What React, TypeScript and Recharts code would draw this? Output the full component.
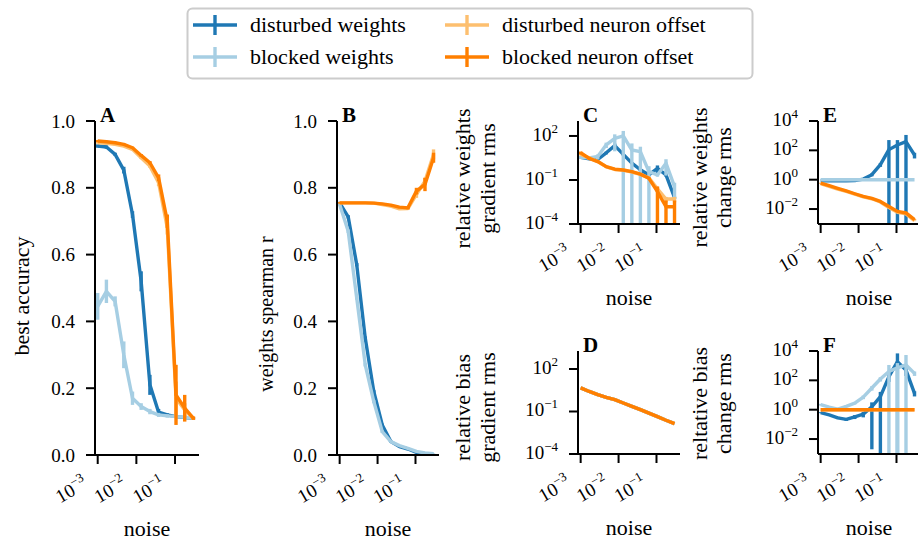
import React from 'react';
import { LineChart, Line, XAxis, YAxis, ErrorBar } from 'recharts';

// ---------- data ----------
const NOISE = [0.001, 0.00168, 0.00282, 0.00473, 0.00794, 0.0133, 0.0224, 0.0376, 0.0631, 0.106, 0.178, 0.299];

const SERIES_KEYS = ['dw', 'bw', 'do', 'bo'];
const SERIES_NAMES = ['disturbed weights', 'blocked weights', 'disturbed neuron offset', 'blocked neuron offset'];
const SERIES_COLORS = ['#1f78b4', '#a6cee3', '#fdbf6f', '#ff7f00'];

// A: best accuracy
const A_DW = [0.925, 0.922, 0.9, 0.853, 0.72, 0.52, 0.21, 0.128, 0.12, 0.115, 0.112, 0.11];
const A_DW_SD = [0.005, 0.005, 0.005, 0.01, 0.01, 0.03, 0.03, 0.01, 0.005, 0.004, 0.004, 0.003];
const A_BW = [0.445, 0.49, 0.46, 0.3, 0.17, 0.145, 0.13, 0.12, 0.117, 0.115, 0.113, 0.11];
const A_BW_SD = [0.04, 0.035, 0.015, 0.04, 0.02, 0.01, 0.008, 0.006, 0.005, 0.004, 0.004, 0.003];
const A_DO = [0.935, 0.933, 0.93, 0.925, 0.915, 0.89, 0.865, 0.815, 0.68, 0.17, 0.135, 0.11];
const A_DO_SD = [0.003, 0.003, 0.003, 0.003, 0.003, 0.004, 0.005, 0.01, 0.02, 0.05, 0.02, 0.005];
const A_BO = [0.94, 0.938, 0.935, 0.93, 0.92, 0.897, 0.875, 0.83, 0.7, 0.18, 0.14, 0.11];
const A_BO_SD = [0.003, 0.003, 0.003, 0.003, 0.003, 0.004, 0.005, 0.01, 0.02, 0.09, 0.04, 0.005];

// B: weights spearman r
const B_DW = [0.755, 0.713, 0.57, 0.35, 0.19, 0.09, 0.04, 0.025, 0.018, 0.008, 0.004, 0.002];
const B_DW_SD = [0.003, 0.005, 0.005, 0.005, 0.005, 0.004, 0.003, 0.002, 0.002, 0.002, 0.001, 0.001];
const B_BW = [0.75, 0.67, 0.47, 0.27, 0.16, 0.07, 0.04, 0.028, 0.02, 0.011, 0.006, 0.004];
const B_BW_SD = [0.003, 0.005, 0.005, 0.005, 0.005, 0.004, 0.003, 0.002, 0.002, 0.002, 0.001, 0.001];
const B_DO = [0.755, 0.755, 0.755, 0.755, 0.754, 0.75, 0.745, 0.737, 0.738, 0.78, 0.82, 0.9];
const B_DO_SD = [0.002, 0.002, 0.002, 0.002, 0.002, 0.002, 0.003, 0.003, 0.004, 0.01, 0.01, 0.015];
const B_BO = [0.755, 0.755, 0.755, 0.755, 0.754, 0.752, 0.748, 0.742, 0.74, 0.79, 0.81, 0.89];
const B_BO_SD = [0.002, 0.002, 0.002, 0.002, 0.002, 0.002, 0.003, 0.003, 0.004, 0.01, 0.02, 0.015];

// C: relative weights gradient rms
const C_DW = [3.5, 2.8, 2.5, 7.1, 22, 5.6, 1.4, 0.5, 0.22, 0.63, 0.22, 0.0063];
const C_DW_SD = [0.5, 0.4, 0.3, 1.5, 8, 1, 0.2, 0.08, 0.04, 0.35, 0.05, 0.001];
const C_BW = [3.5, 3.2, 4.0, 25, 69, 100, 11, 8.5, 0.37, 0.22, 1.4, 0.035];
const C_BW_SD = [0.8, 0.8, 1.5, 10, 60, 120, 20, 10, 0.5, 0.05, 1.2, 0.03];
const C_DO = [5.6, 3.2, 1.8, 0.79, 0.52, 0.47, 0.35, 0.24, 0.14, 0.025, 0.005, 0.005];
const C_DO_SD = [1, 0.8, 0.3, 0.1, 0.05, 0.05, 0.04, 0.03, 0.02, 0.01, 0.002, 0.002];
const C_BO = [7.2, 3.0, 1.8, 0.81, 0.54, 0.48, 0.37, 0.25, 0.13, 0.016, 0.0015, 0.0015];
const C_BO_SD = [1.5, 0.6, 0.2, 0.08, 0.05, 0.05, 0.04, 0.03, 0.02, 0.02, 0.0025, 0.0025];

// D: relative bias gradient rms
const D_DW = [4.6, 2.6, 1.55, 1.0, 0.68, 0.4, 0.23, 0.135, 0.076, 0.043, 0.024, 0.014];
const D_BW = [4.6, 2.6, 1.55, 1.0, 0.68, 0.4, 0.23, 0.135, 0.076, 0.043, 0.024, 0.014];
const D_DO = [4.6, 2.6, 1.55, 1.0, 0.68, 0.4, 0.23, 0.135, 0.076, 0.043, 0.024, 0.014];
const D_BO = [4.6, 2.6, 1.55, 1.0, 0.68, 0.4, 0.23, 0.135, 0.076, 0.043, 0.024, 0.014];
const D_SD = [0, 0, 0, 0, 0, 0, 0, 0, 0, 0, 0, 0];

// E: relative weights change rms
const E_DW = [0.85, 0.85, 0.85, 0.85, 0.86, 1.1, 2.2, 10.5, 112, 230, 390, 48];
const E_DW_SD = [0, 0, 0, 0, 0.02, 0.1, 0.5, 3, 390, 270, 730, 20];
const E_BW = [1, 1, 1, 1, 1, 1, 1, 1, 1, 1, 1, 1];
const E_BW_SD = [0, 0, 0, 0, 0, 0, 0, 0, 0, 0, 0, 0];
const E_DO = [0.54, 0.35, 0.23, 0.16, 0.105, 0.068, 0.05, 0.03, 0.0126, 0.006, 0.0047, 0.0016];
const E_DO_SD = [0.02, 0.01, 0.01, 0.005, 0.003, 0.002, 0.002, 0.001, 0.001, 0.0005, 0.0003, 0.0001];
const E_BO = [0.59, 0.39, 0.26, 0.17, 0.11, 0.072, 0.054, 0.033, 0.015, 0.0069, 0.0054, 0.0019];
const E_BO_SD = [0.02, 0.01, 0.01, 0.005, 0.003, 0.002, 0.002, 0.001, 0.001, 0.0005, 0.0003, 0.0001];

// F: relative bias change rms
const F_DW = [0.63, 0.44, 0.28, 0.22, 0.33, 0.5, 1.58, 7.8, 178, 1860, 500, 13];
const F_DW_SD = [0.05, 0.05, 0.05, 0.05, 0.1, 0.2, 1.578, 8.5, 100, 5000, 300, 5];
const F_BW = [2.2, 1.5, 1.1, 1.7, 2.8, 7.2, 30, 123, 407, 700, 1120, 300];
const F_BW_SD = [0.3, 0.2, 0.1, 0.2, 0.5, 2, 10, 40, 710, 800, 4200, 100];
const F_DO = [1, 1, 1, 1, 1, 1, 1, 1, 1, 1, 1, 1];
const F_BO = [1, 1, 1, 1, 1, 1, 1, 1, 1, 1, 1, 1];
const F_O_SD = [0, 0, 0, 0, 0, 0, 0, 0, 0, 0, 0, 0];

const X_TICKS = [-3, -2, -1];

// ---------- helpers ----------
const FONT = 'Liberation Serif, DejaVu Serif, serif';
const TXT = { fontFamily: FONT };
const ML = 140, MT = 30, MR = 10, MB = 100;
const X_DOMAIN: [number, number] = [-3.07, -0.38];
const LW = 3.4;

function buildRows(vals: number[][], sds: number[][], log: boolean, yDom: [number, number]) {
  return NOISE.map((n, i) => {
    const row: any = { x: Math.log10(n) };
    SERIES_KEYS.forEach((k, s) => {
      const v = vals[s][i];
      const sd = sds[s][i];
      if (log) {
        const c = Math.log10(v);
        const hi = Math.min(Math.log10(v + sd), yDom[1]);
        const lo = v - sd > 0 ? Math.max(Math.log10(v - sd), yDom[0]) : yDom[0];
        row[k] = c;
        row[k + 'Err'] = [c - lo, hi - c];
      } else {
        row[k] = v;
        row[k + 'Err'] = [sd, sd];
      }
    });
    return row;
  });
}

function expLabel(e: number) {
  return e < 0 ? '\u2212' + Math.abs(e) : String(e);
}

type PanelCfg = {
  left: number; top: number; w: number; h: number;
  rows: any[]; yDomain: [number, number]; yTicks: number[]; log: boolean;
  letter: string; ylabel: string[]; ylabelX: number[]; ylabelDy: number; ylabelSize: number;
};

function Panel({ cfg }: { cfg: PanelCfg }) {
  const { w, h } = cfg;
  const axisY = MT + h;
  const XTick = (props: any) => {
    const { x, payload } = props;
    return (
      <text transform={`translate(${x - 9},${axisY + 32}) rotate(-30)`} textAnchor="end"
        style={TXT} fontSize={19} fill="#000">
        10<tspan dy={-8} fontSize={13}>{expLabel(payload.value)}</tspan>
      </text>
    );
  };
  const YTick = (props: any) => {
    const { y, payload } = props;
    if (cfg.log) {
      return (
        <text x={ML - 20} y={y + 5} textAnchor="end" style={TXT} fontSize={19} fill="#000">
          10<tspan dy={-8} fontSize={13}>{expLabel(payload.value)}</tspan>
        </text>
      );
    }
    return (
      <text x={ML - 20} y={y + 6.5} textAnchor="end" style={TXT} fontSize={19} fill="#000">
        {Number(payload.value).toFixed(1)}
      </text>
    );
  };
  const YLab = () => (
    <g>
      <text x={ML + 5} y={MT + 1} style={TXT} fontSize={21} fontWeight="bold" fill="#000">{cfg.letter}</text>
      {cfg.ylabel.map((t, i) => (
        <text key={i} transform={`translate(${ML + cfg.ylabelX[i]},${MT + h / 2 + cfg.ylabelDy}) rotate(-90)`}
          textAnchor="middle" style={TXT} fontSize={cfg.ylabelSize} fill="#000">{t}</text>
      ))}
    </g>
  );
  const XLab = () => (
    <text x={ML + w / 2} y={axisY + 81} textAnchor="middle" style={TXT} fontSize={22} fill="#000">noise</text>
  );
  return (
    <div style={{ position: 'absolute', left: cfg.left - ML, top: cfg.top - MT }}>
      <LineChart width={w + ML + MR} height={h + MT + MB} data={cfg.rows}
        margin={{ top: MT, right: MR, left: 0, bottom: 0 }}>
        <XAxis type="number" dataKey="x" domain={X_DOMAIN} ticks={X_TICKS} allowDataOverflow interval={0}
          height={MB} axisLine={{ stroke: '#000', strokeWidth: 2 }} tickLine={{ stroke: '#000', strokeWidth: 2 }}
          tickSize={9} tick={XTick} label={<XLab />} />
        <YAxis type="number" domain={cfg.yDomain} ticks={cfg.yTicks} allowDataOverflow interval={0}
          width={ML} axisLine={{ stroke: '#000', strokeWidth: 2 }} tickLine={{ stroke: '#000', strokeWidth: 2 }}
          tickSize={9} tick={YTick} label={<YLab />} />
        {SERIES_KEYS.map((k, s) => (
          <Line key={k} type="linear" dataKey={k} stroke={SERIES_COLORS[s]} strokeWidth={LW} dot={false}
            activeDot={false} isAnimationActive={false} strokeLinejoin="round">
            <ErrorBar dataKey={k + 'Err'} width={0} stroke={SERIES_COLORS[s]} strokeWidth={LW}
              direction="y" isAnimationActive={false} />
          </Line>
        ))}
      </LineChart>
    </div>
  );
}

const LIN_DOM: [number, number] = [0, 1];
const LIN_TICKS = [0, 0.2, 0.4, 0.6, 0.8, 1.0];
const C_DOM: [number, number] = [-4, 3.02];
const D_DOM: [number, number] = [-4, 3.27];
const EF_DOM: [number, number] = [-3.02, 4];

const PANELS: PanelCfg[] = [
  {
    left: 95, top: 121, w: 104, h: 334, log: false, yDomain: LIN_DOM, yTicks: LIN_TICKS, letter: 'A',
    rows: buildRows([A_DW, A_BW, A_DO, A_BO], [A_DW_SD, A_BW_SD, A_DO_SD, A_BO_SD], false, LIN_DOM),
    ylabel: ['best accuracy'], ylabelX: [-66], ylabelDy: 8, ylabelSize: 22,
  },
  {
    left: 337, top: 121, w: 102, h: 334, log: false, yDomain: LIN_DOM, yTicks: LIN_TICKS, letter: 'B',
    rows: buildRows([B_DW, B_BW, B_DO, B_BO], [B_DW_SD, B_BW_SD, B_DO_SD, B_BO_SD], false, LIN_DOM),
    ylabel: ['weights spearman r'], ylabelX: [-64], ylabelDy: 26, ylabelSize: 20,
  },
  {
    left: 578, top: 121, w: 102, h: 103, log: true, yDomain: C_DOM, yTicks: [-4, -1, 2], letter: 'C',
    rows: buildRows([C_DW, C_BW, C_DO, C_BO], [C_DW_SD, C_BW_SD, C_DO_SD, C_BO_SD], true, C_DOM),
    ylabel: ['relative weights', 'gradient rms'], ylabelX: [-108, -83], ylabelDy: 6, ylabelSize: 22,
  },
  {
    left: 578, top: 351, w: 102, h: 103, log: true, yDomain: D_DOM, yTicks: [-4, -1, 2], letter: 'D',
    rows: buildRows([D_DW, D_BW, D_DO, D_BO], [D_SD, D_SD, D_SD, D_SD], true, D_DOM),
    ylabel: ['relative bias', 'gradient rms'], ylabelX: [-108, -83], ylabelDy: 5, ylabelSize: 22,
  },
  {
    left: 818, top: 121, w: 102, h: 103, log: true, yDomain: EF_DOM, yTicks: [-2, 0, 2, 4], letter: 'E',
    rows: buildRows([E_DW, E_BW, E_DO, E_BO], [E_DW_SD, E_BW_SD, E_DO_SD, E_BO_SD], true, EF_DOM),
    ylabel: ['relative weights', 'change rms'], ylabelX: [-111, -87], ylabelDy: 5, ylabelSize: 22,
  },
  {
    left: 818, top: 351, w: 102, h: 103, log: true, yDomain: EF_DOM, yTicks: [-2, 0, 2, 4], letter: 'F',
    rows: buildRows([F_DW, F_BW, F_DO, F_BO], [F_DW_SD, F_BW_SD, F_O_SD, F_O_SD], true, EF_DOM),
    ylabel: ['reltative bias', 'change rms'], ylabelX: [-111, -87], ylabelDy: 1, ylabelSize: 22,
  },
];

function LegendBox() {
  const items = [
    { s: 0, hx: 193, tx: 250, y: 25 },
    { s: 1, hx: 193, tx: 250, y: 57 },
    { s: 2, hx: 445, tx: 502, y: 25 },
    { s: 3, hx: 445, tx: 502, y: 57 },
  ];
  return (
    <svg width={918} height={90} style={{ position: 'absolute', left: 0, top: 0 }}>
      <rect x={187.5} y={8.5} width={565} height={70} rx={5} fill="#fff" stroke="#cccccc" strokeWidth={2} />
      {items.map((it) => (
        <g key={it.s}>
          <line x1={it.hx} x2={it.hx + 44} y1={it.y} y2={it.y} stroke={SERIES_COLORS[it.s]} strokeWidth={LW} />
          <line x1={it.hx + 22} x2={it.hx + 22} y1={it.y - 10} y2={it.y + 10} stroke={SERIES_COLORS[it.s]} strokeWidth={LW} />
          <text x={it.tx} y={it.y + 7} style={TXT} fontSize={22} fill="#000">{SERIES_NAMES[it.s]}</text>
        </g>
      ))}
    </svg>
  );
}

export default function App() {
  return (
    <div style={{ position: 'absolute', left: 0, top: 0, width: 918, height: 541, overflow: 'hidden', background: '#fff', fontFamily: FONT }}>
      <LegendBox />
      {PANELS.map((p) => (
        <Panel key={p.letter} cfg={p} />
      ))}
    </div>
  );
}
